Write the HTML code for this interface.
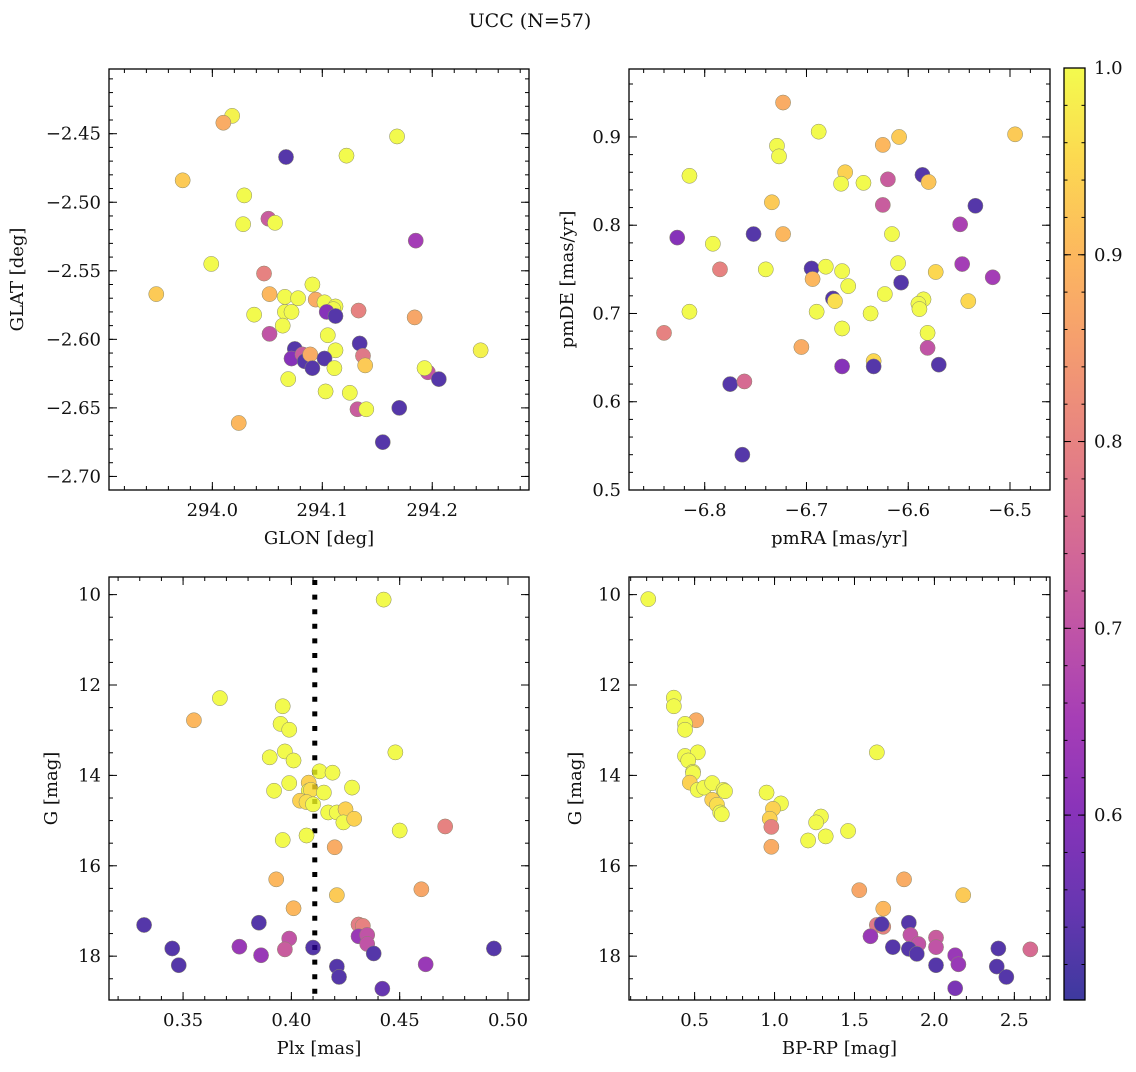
<!DOCTYPE html>
<html><head><meta charset="utf-8">
<style>
html,body{margin:0;padding:0;background:#fff;}
svg text{font-family:"DejaVu Serif","Liberation Serif",serif;fill:#111;}
</style></head>
<body>
<svg id="fig" width="1136" height="1067" viewBox="0 0 1136 1067" xmlns="http://www.w3.org/2000/svg">
<text x="530" y="27" font-size="19" text-anchor="middle">UCC (N=57)</text>
</svg>
<script>
// ---- data: top-left GLON/GLAT ----
const tlGlon=[294.018,294.010,294.067,294.168,294.122,293.973,294.029,294.051,294.057,294.028,294.185,293.999,294.047,293.949,294.052,294.091,294.066,294.078,294.094,294.102,294.112,294.110,294.104,294.112,294.133,294.184,294.038,294.066,294.072,294.064,294.052,294.105,294.134,294.244,294.075,294.112,294.072,294.082,294.084,294.089,294.102,294.091,294.137,294.139,294.111,294.196,294.193,294.206,294.069,294.103,294.125,294.132,294.140,294.170,294.024,294.155];
const tlGlat=[-2.437,-2.442,-2.467,-2.452,-2.466,-2.484,-2.495,-2.512,-2.515,-2.516,-2.528,-2.545,-2.552,-2.567,-2.567,-2.560,-2.569,-2.570,-2.571,-2.573,-2.576,-2.578,-2.580,-2.583,-2.579,-2.584,-2.582,-2.580,-2.580,-2.590,-2.596,-2.597,-2.603,-2.608,-2.607,-2.608,-2.614,-2.611,-2.616,-2.611,-2.614,-2.621,-2.612,-2.619,-2.621,-2.624,-2.621,-2.629,-2.629,-2.638,-2.639,-2.651,-2.651,-2.650,-2.661,-2.675];
const tlProb=[0.99,0.88,0.53,1.0,1.0,0.93,1.0,0.72,1.0,1.0,0.65,1.0,0.8,0.93,0.9,1.0,1.0,1.0,0.88,1.0,1.0,1.0,0.6,0.53,0.8,0.87,1.0,1.0,1.0,1.0,0.7,1.0,0.53,0.99,0.53,1.0,0.6,0.72,0.53,0.88,0.53,0.53,0.78,0.93,1.0,0.7,1.0,0.53,1.0,1.0,1.0,0.72,1.0,0.53,0.9,0.53];
// ---- data: top-right pmRA/pmDE ----
const trPmra=[-6.723,-6.688,-6.729,-6.727,-6.495,-6.609,-6.625,-6.815,-6.662,-6.666,-6.644,-6.620,-6.586,-6.580,-6.734,-6.625,-6.534,-6.549,-6.827,-6.752,-6.723,-6.792,-6.616,-6.785,-6.740,-6.695,-6.681,-6.694,-6.665,-6.659,-6.610,-6.607,-6.573,-6.547,-6.517,-6.674,-6.672,-6.623,-6.585,-6.590,-6.589,-6.541,-6.815,-6.690,-6.637,-6.665,-6.581,-6.840,-6.705,-6.581,-6.634,-6.634,-6.665,-6.570,-6.775,-6.761,-6.763];
const trPmde=[0.939,0.906,0.890,0.878,0.903,0.900,0.891,0.856,0.860,0.847,0.848,0.852,0.857,0.849,0.826,0.823,0.822,0.801,0.786,0.790,0.790,0.779,0.790,0.750,0.750,0.751,0.753,0.739,0.748,0.731,0.757,0.735,0.747,0.756,0.741,0.717,0.714,0.722,0.716,0.711,0.705,0.714,0.702,0.702,0.700,0.683,0.678,0.678,0.662,0.661,0.646,0.640,0.640,0.642,0.620,0.623,0.540];
const trProb=[0.88,1.0,1.0,1.0,0.93,0.93,0.9,1.0,0.94,1.0,1.0,0.72,0.53,0.92,0.93,0.72,0.53,0.66,0.6,0.53,0.9,1.0,1.0,0.8,1.0,0.53,1.0,0.9,1.0,1.0,1.0,0.53,0.95,0.65,0.65,0.53,0.96,1.0,1.0,1.0,1.0,0.95,1.0,1.0,1.0,1.0,1.0,0.8,0.88,0.7,0.95,0.53,0.6,0.53,0.53,0.75,0.53];
// ---- data: bottom-left Plx/G ----
const blPlx=[0.4426,0.367,0.355,0.396,0.395,0.399,0.397,0.390,0.401,0.448,0.413,0.419,0.399,0.392,0.408,0.408,0.409,0.415,0.428,0.404,0.407,0.410,0.417,0.421,0.425,0.424,0.429,0.450,0.471,0.396,0.407,0.420,0.393,0.460,0.421,0.401,0.332,0.385,0.431,0.433,0.399,0.431,0.435,0.435,0.345,0.376,0.397,0.410,0.438,0.386,0.4935,0.348,0.421,0.422,0.462,0.442];
const blG=[10.11,12.29,12.78,12.47,12.86,12.99,13.47,13.6,13.67,13.49,13.91,13.94,14.17,14.34,14.16,14.34,14.32,14.38,14.27,14.56,14.59,14.64,14.82,14.82,14.75,15.04,14.96,15.22,15.13,15.43,15.33,15.59,16.3,16.52,16.65,16.94,17.31,17.26,17.3,17.33,17.61,17.56,17.53,17.73,17.83,17.79,17.85,17.81,17.94,17.98,17.83,18.2,18.23,18.46,18.18,18.72];
const blProb=[1.0,1.0,0.9,1.0,1.0,1.0,1.0,1.0,1.0,1.0,1.0,1.0,1.0,1.0,0.94,1.0,0.96,1.0,1.0,0.94,0.96,1.0,1.0,1.0,0.94,1.0,0.94,1.0,0.8,1.0,1.0,0.88,0.9,0.87,0.93,0.9,0.53,0.53,0.79,0.8,0.7,0.63,0.7,0.7,0.53,0.63,0.72,0.53,0.53,0.63,0.53,0.53,0.53,0.53,0.63,0.55];
const plxMedian=[0.4108];
// ---- data: bottom-right BP-RP/G ----
const brBprp=[0.21,0.37,0.37,0.51,0.44,0.44,0.44,0.52,0.46,0.49,0.49,0.47,0.52,0.56,0.61,0.68,0.69,0.61,0.64,0.66,0.67,0.95,1.04,0.99,0.97,0.98,0.98,1.29,1.26,1.32,1.21,1.46,1.64,1.53,1.81,2.18,1.68,1.64,1.68,1.67,1.84,1.60,1.74,1.85,1.90,1.84,1.89,2.01,2.01,2.01,2.13,2.15,2.13,2.40,2.39,2.45,2.60];
const brG=[10.1,12.28,12.47,12.78,12.86,12.99,13.57,13.49,13.67,13.92,13.95,14.16,14.32,14.27,14.17,14.32,14.35,14.54,14.65,14.82,14.86,14.38,14.62,14.74,14.96,15.14,15.58,14.91,15.04,15.35,15.44,15.23,13.49,16.54,16.3,16.65,16.95,17.31,17.35,17.29,17.26,17.56,17.8,17.53,17.73,17.84,17.95,17.59,17.8,18.2,17.98,18.18,18.71,17.83,18.23,18.46,17.85];
const brProb=[1.0,1.0,1.0,0.88,1.0,1.0,1.0,1.0,1.0,1.0,1.0,0.94,1.0,1.0,1.0,1.0,1.0,0.94,0.96,1.0,1.0,1.0,1.0,0.94,0.94,0.8,0.88,1.0,1.0,1.0,1.0,1.0,1.0,0.87,0.88,0.93,0.9,0.78,0.8,0.53,0.53,0.63,0.53,0.7,0.7,0.53,0.53,0.72,0.7,0.53,0.63,0.63,0.58,0.53,0.53,0.53,0.75];
// ---- tick labels ----
const tlXTicks=[294.0,294.1,294.2], tlXLabels=["294.0","294.1","294.2"];
const tlYTicks=[-2.45,-2.5,-2.55,-2.6,-2.65,-2.7], tlYLabels=["−2.45","−2.50","−2.55","−2.60","−2.65","−2.70"];
const trXTicks=[-6.8,-6.7,-6.6,-6.5], trXLabels=["−6.8","−6.7","−6.6","−6.5"];
const trYTicks=[0.5,0.6,0.7,0.8,0.9], trYLabels=["0.5","0.6","0.7","0.8","0.9"];
const blXTicks=[0.35,0.4,0.45,0.5], blXLabels=["0.35","0.40","0.45","0.50"];
const gTicks=[10,12,14,16,18], gLabels=["10","12","14","16","18"];
const brXTicks=[0.5,1.0,1.5,2.0,2.5], brXLabels=["0.5","1.0","1.5","2.0","2.5"];
const cbTicks=[0.6,0.7,0.8,0.9,1.0], cbLabels=["0.6","0.7","0.8","0.9","1.0"];
const vmin=0.501, vmax=1.0;

const NS="http://www.w3.org/2000/svg";
const svg=document.getElementById('fig');
function mk(tag,attrs,parent){const e=document.createElementNS(NS,tag);for(const k in attrs)e.setAttribute(k,attrs[k]);(parent||svg).appendChild(e);return e;}
const plasma=[[13,8,135],[65,4,157],[106,0,168],[143,13,164],[177,42,144],[204,71,120],[225,100,98],[242,132,75],[252,166,54],[252,206,37],[240,249,33]];
function cmap(t){t=Math.max(0,Math.min(1,t));const f=t*10,i=Math.min(9,Math.floor(f)),r=f-i;const a=plasma[i],b=plasma[i+1];
 return `rgb(${Math.round(a[0]+(b[0]-a[0])*r)},${Math.round(a[1]+(b[1]-a[1])*r)},${Math.round(a[2]+(b[2]-a[2])*r)})`;}
function colorOf(p){return cmap((p-vmin)/(vmax-vmin));}
const FS=18;

function panel(cfg){
 const g=mk('g',{});
 
 
 const {x0,x1,y0,y1,xmin,xmax,ymin,ymax}=cfg;
 const sx=v=>x0+(v-xmin)/(xmax-xmin)*(x1-x0);
 const sy=cfg.invert? v=>y0+(v-ymin)/(ymax-ymin)*(y1-y0) : v=>y1-(v-ymin)/(ymax-ymin)*(y1-y0);
 const tg=mk('g',{stroke:'#000','stroke-width':1},g);
 
 
 const lo=Math.min(xmin,xmax),hi=Math.max(xmin,xmax);
 for(let v=Math.ceil(lo/cfg.xminor-1e-9)*cfg.xminor;v<=hi+1e-9;v+=cfg.xminor){const X=sx(v);
  mk('line',{x1:X,x2:X,y1:y1,y2:y1-4},tg);mk('line',{x1:X,x2:X,y1:y0,y2:y0+4},tg);}
 const ylo=Math.min(ymin,ymax),yhi=Math.max(ymin,ymax);
 for(let v=Math.ceil(ylo/cfg.yminor-1e-9)*cfg.yminor;v<=yhi+1e-9;v+=cfg.yminor){const Y=sy(v);
  mk('line',{x1:x0,x2:x0+4,y1:Y,y2:Y},tg);mk('line',{x1:x1,x2:x1-4,y1:Y,y2:Y},tg);}
 cfg.xt.forEach((v,i)=>{const X=sx(v);
  mk('line',{x1:X,x2:X,y1:y1,y2:y1-8},tg);mk('line',{x1:X,x2:X,y1:y0,y2:y0+8},tg);
  const t=mk('text',{x:X,y:y1+26,'font-size':FS,'text-anchor':'middle'},g);t.textContent=cfg.xl[i];
  });
 cfg.yt.forEach((v,i)=>{const Y=sy(v);
  mk('line',{x1:x0,x2:x0+8,y1:Y,y2:Y},tg);mk('line',{x1:x1,x2:x1-8,y1:Y,y2:Y},tg);
  const t=mk('text',{x:x0-8,y:Y+6,'font-size':FS,'text-anchor':'end'},g);t.textContent=cfg.yl[i];
  });
 if(cfg.vline){const X=sx(cfg.vline[0]);
  const l=mk('line',{x1:X,x2:X,y1:y0+3,y2:y1,stroke:'#000','stroke-width':5,'stroke-dasharray':'5 9.6'},g);
  }
 const pg=mk('g',{opacity:0.8},g);
 
 
 const n=Math.min(cfg.xs.length,cfg.ys.length,cfg.ps.length);
 for(let i=0;i<n;i++){
  const c=mk('circle',{cx:sx(cfg.xs[i]),cy:sy(cfg.ys[i]),r:7.6,fill:colorOf(cfg.ps[i]),stroke:'#6b6b4a','stroke-width':0.5},pg);
  
  
 }
 const fr=mk('rect',{x:x0,y:y0,width:x1-x0,height:y1-y0,fill:'none',stroke:'#000','stroke-width':1.3},g);
 
 const xlab=mk('text',{x:(x0+x1)/2,y:y1+54,'font-size':FS,'text-anchor':'middle'},g);xlab.textContent=cfg.xlabel;
 
 const ylab=mk('text',{x:0,y:0,'font-size':FS,'text-anchor':'middle',transform:`translate(${cfg.ylx},${(y0+y1)/2}) rotate(-90)`},g);ylab.textContent=cfg.ylabel;
 
}

panel({name:'glon-glat-panel',x0:109,x1:529,y0:69,y1:490,xmin:293.906,xmax:294.288,ymin:-2.7099,ymax:-2.4028,
 xminor:0.02,yminor:0.01,xt:tlXTicks,xl:tlXLabels,yt:tlYTicks,yl:tlYLabels,xs:tlGlon,ys:tlGlat,ps:tlProb,
 xlabel:'GLON [deg]',ylabel:'GLAT [deg]',ylx:23});
panel({name:'pm-panel',x0:629,x1:1050,y0:69,y1:490,xmin:-6.8744,xmax:-6.4607,ymin:0.5,ymax:0.977,
 xminor:0.02,yminor:0.02,xt:trXTicks,xl:trXLabels,yt:trYTicks,yl:trYLabels,xs:trPmra,ys:trPmde,ps:trProb,
 xlabel:'pmRA [mas/yr]',ylabel:'pmDE [mas/yr]',ylx:573});
panel({name:'plx-g-panel',x0:109,x1:529,y0:577,y1:1000,xmin:0.3158,xmax:0.5097,ymin:9.61,ymax:18.97,invert:true,
 xminor:0.01,yminor:0.5,xt:blXTicks,xl:blXLabels,yt:gTicks,yl:gLabels,xs:blPlx,ys:blG,ps:blProb,vline:plxMedian,
 xlabel:'Plx [mas]',ylabel:'G [mag]',ylx:57});
panel({name:'cmd-panel',x0:629,x1:1050,y0:577,y1:1000,xmin:0.0896,xmax:2.723,ymin:9.61,ymax:18.97,invert:true,
 xminor:0.1,yminor:0.5,xt:brXTicks,xl:brXLabels,yt:gTicks,yl:gLabels,xs:brBprp,ys:brG,ps:brProb,
 xlabel:'BP-RP [mag]',ylabel:'G [mag]',ylx:581});

const cb=mk('g',{});


const defs=mk('defs',{});
const grad=mk('linearGradient',{id:'pl',x1:0,y1:1,x2:0,y2:0},defs);
for(let i=0;i<=20;i++){mk('stop',{offset:i/20,'stop-color':cmap(i/20)},grad);}
const cbx0=1064,cbx1=1085,cby0=68,cby1=1000;
mk('rect',{x:cbx0,y:cby0,width:cbx1-cbx0,height:cby1-cby0,fill:'url(#pl)',opacity:0.8},cb);
mk('rect',{x:cbx0,y:cby0,width:cbx1-cbx0,height:cby1-cby0,fill:'none',stroke:'#000','stroke-width':1.3},cb);
const cy=v=>cby1-(v-vmin)/(vmax-vmin)*(cby1-cby0);
for(let v=0.52;v<=1.0001;v+=0.02){const Y=cy(v);mk('line',{x1:cbx1,x2:cbx1-3.5,y1:Y,y2:Y,stroke:'#000'},cb);mk('line',{x1:cbx0,x2:cbx0+3.5,y1:Y,y2:Y,stroke:'#000'},cb);}
cbTicks.forEach((v,i)=>{const Y=cy(v);
 mk('line',{x1:cbx1,x2:cbx1-7,y1:Y,y2:Y,stroke:'#000'},cb);mk('line',{x1:cbx0,x2:cbx0+7,y1:Y,y2:Y,stroke:'#000'},cb);
 const t=mk('text',{x:cbx1+9,y:Y+6,'font-size':FS},cb);t.textContent=cbLabels[i];
 });
</script>
</body></html>
